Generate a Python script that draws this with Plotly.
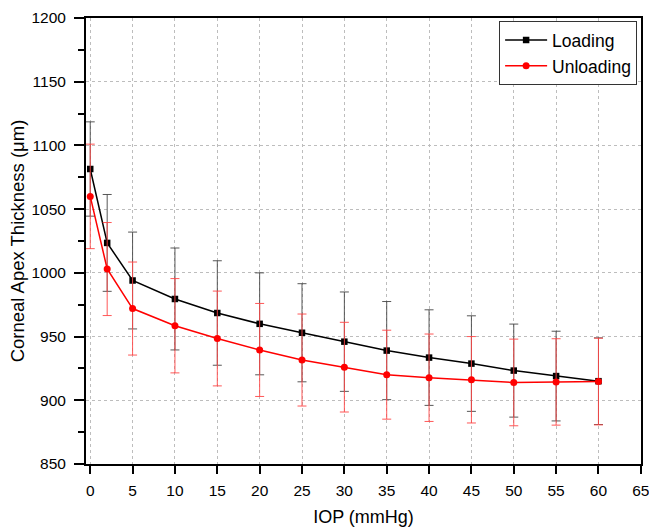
import plotly.graph_objects as go

iop = [0, 2, 5, 10, 15, 20, 25, 30, 35, 40, 45, 50, 55, 60]
loading = [1081.5, 1023.5, 994, 979.5, 968.5, 960, 953, 946, 939, 933.5, 928.8, 923.3, 919, 915]
loading_sd = [37, 38, 38, 40, 41, 40, 38.5, 39, 38.5, 37.5, 37.5, 36.5, 35.2, 34]
unloading = [1060, 1003, 972, 958.5, 948.5, 939.5, 931.6, 926, 920.1, 917.7, 916.1, 914, 914.4, 914.7]
unloading_sd = [41, 36.5, 36.5, 37, 37.2, 36.5, 36.1, 35.2, 34.9, 34.3, 33.9, 34, 33.9, 34]

x_ticks = [0, 5, 10, 15, 20, 25, 30, 35, 40, 45, 50, 55, 60, 65]
y_ticks = [850, 900, 950, 1000, 1050, 1100, 1150, 1200]

FONT = "Liberation Sans, Arial, sans-serif"

fig = go.Figure()
fig.add_trace(go.Scatter(
    x=iop, y=loading, name="Loading", mode="lines+markers",
    line=dict(color="black", width=1.5),
    marker=dict(symbol="square", size=6.5, color="black"),
    error_y=dict(type="data", array=loading_sd, visible=True,
                 color="rgba(70,70,70,0.9)", thickness=1, width=4.5),
))
fig.add_trace(go.Scatter(
    x=iop, y=unloading, name="Unloading", mode="lines+markers",
    line=dict(color="red", width=1.5),
    marker=dict(symbol="circle", size=7, color="red"),
    error_y=dict(type="data", array=unloading_sd, visible=True,
                 color="rgba(255,70,70,0.9)", thickness=1, width=4.5),
))

fig.update_layout(
    width=649, height=527,
    margin=dict(l=86, r=8, t=18, b=63),
    paper_bgcolor="white", plot_bgcolor="white",
    font=dict(family=FONT, size=15, color="black"),
    showlegend=True,
    legend=dict(
        x=0.993, y=0.993, xanchor="right", yanchor="top",
        bgcolor="white", bordercolor="#333", borderwidth=1,
        font=dict(family=FONT, size=17.5),
        itemwidth=42, tracegroupgap=0,
    ),
    xaxis=dict(
        range=[-0.5, 65.02], tickvals=x_ticks, automargin=False,
        showline=True, linecolor="black", linewidth=2, mirror=True,
        ticks="outside", ticklen=8, tickwidth=1.5, tickcolor="black",
        ticklabelstandoff=3, ticklabeloverflow="allow",
        showgrid=True, gridcolor="#bdbdbd", griddash="dot", gridwidth=1,
        zeroline=False,
        tickfont=dict(family=FONT, size=15.5),
        title=dict(text="IOP (mmHg)", font=dict(family=FONT, size=18), standoff=16),
    ),
    yaxis=dict(
        range=[850, 1200], tickvals=y_ticks, automargin=False,
        showline=True, linecolor="black", linewidth=2, mirror=True,
        ticks="outside", ticklen=10, tickwidth=1.5, tickcolor="black",
        ticklabelstandoff=5,
        minor=dict(dtick=25, tick0=850, ticks="outside", ticklen=6, tickcolor="black", showgrid=False),
        showgrid=True, gridcolor="#bdbdbd", griddash="dot", gridwidth=1,
        zeroline=False,
        tickfont=dict(family=FONT, size=15.5),
        title=dict(text="Corneal Apex Thickness (μm)", font=dict(family=FONT, size=18.5), standoff=2),
    ),
)

# remove the browser's default 8px body margin so the figure fills the window
fig.write_html(
    "out.html",
    config={"displayModeBar": False},
    post_script="document.body.style.margin='0';document.body.style.overflow='hidden';",
)
